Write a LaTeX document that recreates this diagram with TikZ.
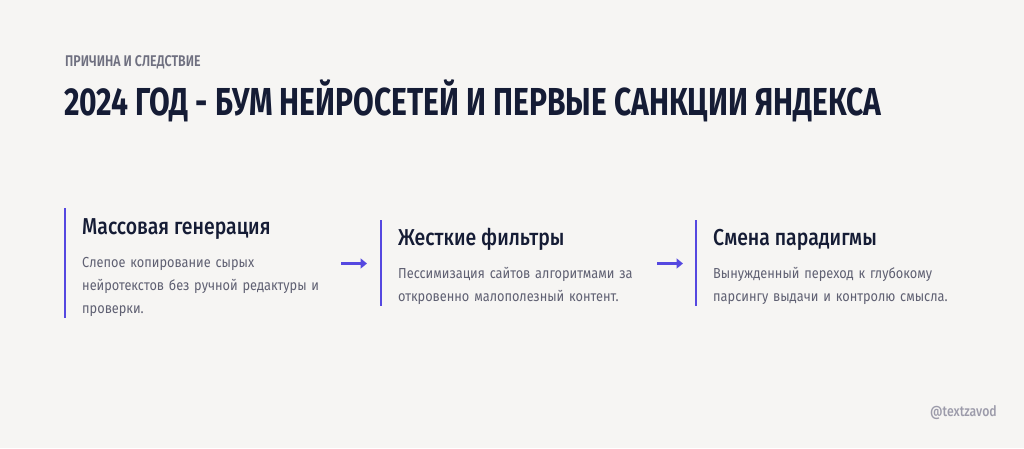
\documentclass[tikz,border=0pt]{standalone}
\usepackage{fontspec}
\setmainfont{Fira Sans}
\newfontfamily\titlefont[FakeStretch=0.77]{Fira Sans Bold}
\newfontfamily\kickfont[FakeStretch=0.80]{Fira Sans SemiBold}
\newfontfamily\headfont[FakeStretch=0.845]{Fira Sans Medium}
\newfontfamily\bodyfont[FakeStretch=0.88]{Fira Sans}
\usetikzlibrary{arrows.meta,positioning}
\definecolor{bgpaper}{HTML}{F6F5F3}
\definecolor{inkdark}{HTML}{151C35}
\definecolor{inkgray}{HTML}{5F6072}
\definecolor{accent}{HTML}{5548E0}
\definecolor{markgray}{HTML}{9C9BAA}
\begin{document}
\begin{tikzpicture}[x=1pt,y=-1pt,
  kicker/.style={anchor=base west,inner sep=0pt,text=inkgray!90,font=\kickfont\fontsize{15.5}{15.5}\selectfont},
  headline/.style={anchor=base west,inner sep=0pt,text=inkdark,font=\titlefont\fontsize{39}{39}\selectfont},
  card head/.style={anchor=base west,inner sep=0pt,text=inkdark,font=\headfont\fontsize{23}{23}\selectfont},
  card body/.style={anchor=base west,inner sep=0pt,text=inkgray,text width=260pt,align=left,font=\bodyfont\fontsize{14.5}{23}\selectfont},
  bar/.style={line width=2.5pt,draw=accent},
  flow/.style={line width=3.3pt,draw=accent,-{Triangle[length=6.5pt,width=10pt]}}]
  \fill[bgpaper] (0,0) rectangle (1024,448);
  \useasboundingbox (0,0) rectangle (1024,448);

  \node[kicker] at (65,66) (kick) {ПРИЧИНА И СЛЕДСТВИЕ};
  \node[headline] at (64,115.5) (title) {2024 ГОД - БУМ НЕЙРОСЕТЕЙ И ПЕРВЫЕ САНКЦИИ ЯНДЕКСА};

  % cards
  \coordinate (b1t) at (65,208);
  \coordinate (b1b) at (65,318);
  \coordinate (b2t) at (381,220);
  \coordinate (b2b) at (381,306);
  \coordinate (b3t) at (696,220);
  \coordinate (b3b) at (696,306);
  \draw[bar] (b1t) -- (b1b);
  \draw[bar] (b2t) -- (b2b);
  \draw[bar] (b3t) -- (b3b);

  \node[card head] at (82,234) (h1) {Массовая генерация};
  \node[card body] at (82,267.5) (t1) {Слепое копирование сырых\\нейротекстов без ручной редактуры и\\проверки.};
  \node[card head] at (398,245) (h2) {Жесткие фильтры};
  \node[card body] at (398,278) (t2) {Пессимизация сайтов алгоритмами за\\откровенно малополезный контент.};
  \node[card head] at (713,245) (h3) {Смена парадигмы};
  \node[card body] at (713,278) (t3) {Вынужденный переход к глубокому\\парсингу выдачи и контролю смысла.};

  % arrows
  \coordinate (a1s) at (341,263.5);
  \coordinate (a1e) at (367,263.5);
  \coordinate (a2s) at (657,263.5);
  \coordinate (a2e) at (683,263.5);
  \draw[flow] (a1s) -- (a1e);
  \draw[flow] (a2s) -- (a2e);

  \node[anchor=base east,inner sep=0pt,text=markgray,font=\headfont\fontsize{14.5}{14.5}\selectfont] at (997,416) (mark) {@textzavod};
\end{tikzpicture}
\end{document}
